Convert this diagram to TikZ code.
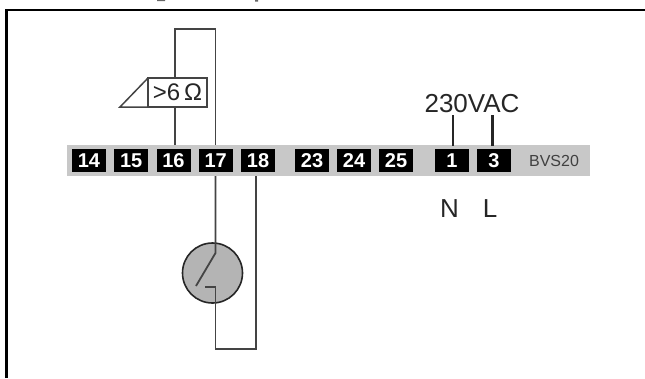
\documentclass[tikz,border=0pt]{standalone}
\usepackage{fontspec}
\setmainfont{Liberation Sans}
\usetikzlibrary{positioning,calc}
\definecolor{stripgray}{HTML}{C8C8C8}
\definecolor{lampgray}{HTML}{B4B4B4}
\definecolor{wiregray}{HTML}{444444}
\tikzset{
	terminal/.style={fill=black,text=white,inner sep=0pt,outer sep=0pt,minimum width=34pt,minimum height=23pt,font=\fontsize{20}{20}\selectfont\bfseries},
	wire/.style={draw=wiregray,line width=1.8pt},
	supply/.style={draw=black!85,line width=2.4pt},
	label/.style={inner sep=0pt,font=\fontsize{26}{26}\selectfont,text=black!85},
}
\begin{document}
\begin{tikzpicture}[x=1pt,y=-1pt]
	\useasboundingbox (0,0) rectangle (645,378);
	\draw[line width=2.4pt] (6.5,378) -- (6.5,10) -- (645,10);
	\fill[black!60] (157,0) rectangle (165,1) (255,0) rectangle (258,1.5);
	\node[fill=stripgray,inner sep=0pt,outer sep=0pt,minimum width=523pt,minimum height=31pt] (strip) at (328.5,160.5) {};
	\node[terminal] (t14) at (89,160.5) {14};
	\node[terminal,right=8.25pt of t14] (t15) {15};
	\node[terminal,right=8.25pt of t15] (t16) {16};
	\node[terminal,right=8.25pt of t16] (t17) {17};
	\node[terminal,right=8.25pt of t17] (t18) {18};
	\node[terminal,right=20pt of t18] (t23) {23};
	\node[terminal,right=8pt of t23] (t24) {24};
	\node[terminal,right=8pt of t24] (t25) {25};
	\node[terminal,right=22pt of t25] (t1) {1};
	\node[terminal,right=8pt of t1] (t3) {3};
	\node[inner sep=0pt,text=black!75,font=\fontsize{16}{16}\selectfont] (bvs) at (554,161) {BVS20};
	% wires above the strip
	\coordinate (w16) at ($(strip.north west)+(108,0)$);
	\coordinate (w17) at ($(strip.north west)+(148.5,0)$);
	\coordinate (top16) at ($(w16)+(0,-116)$);
	\coordinate (top17) at ($(w17)+(0,-116)$);
	\draw[wire] (w16) -- (top16) -- (top17) -- (w17);
	% monitor box
	\node[draw=wiregray,fill=white,line width=1.5pt,inner sep=0pt,outer sep=0pt,minimum width=59pt,minimum height=29pt,font=\fontsize{24}{24}\selectfont,text=black!85] (mon) at (177.5,92.5) {>6\,Ω};
	\coordinate (tip) at ($(mon.south west)+(-28,0)$);
	\draw[wiregray,line width=1.5pt] (mon.north west) -- (tip) -- (mon.south west);
	% wires below the strip
	\coordinate (w17b) at ($(strip.south west)+(148.5,0)$);
	\coordinate (w18b) at ($(strip.south west)+(189,0)$);
	\coordinate (low17) at ($(w17b)+(0,173)$);
	\coordinate (low18) at ($(w18b)+(0,173)$);
	\node[circle,draw=black!85,fill=lampgray,line width=1.6pt,inner sep=0pt,outer sep=0pt,minimum size=60pt] (lamp) at (212.5,273) {};
	\coordinate (sw1) at ($(w17b)+(0,77)$);
	\coordinate (sw2) at (196,286);
	\coordinate (sw3) at (215.5,287);
	\coordinate (sw4) at (205,287);
	\draw[wire] (w17b) -- (sw1) -- (sw2);
	\draw[wire] (sw4) -- (sw3) -- (low17) -- (low18) -- (w18b);
	% supply
	\node[label] (vac) at (472,104) {230VAC};
	\node[label] (n) at (449.5,209) {N};
	\node[label] (l) at (490,209) {L};
	\coordinate (s1) at ($(t1.north)+(1,-34)$);
	\coordinate (s3) at ($(t3.north)+(-1.5,-34)$);
	\draw[supply] (s1) -- ($(t1.north)+(1,-3)$);
	\draw[supply] (s3) -- ($(t3.north)+(-1.5,-3)$);
\end{tikzpicture}
\end{document}
